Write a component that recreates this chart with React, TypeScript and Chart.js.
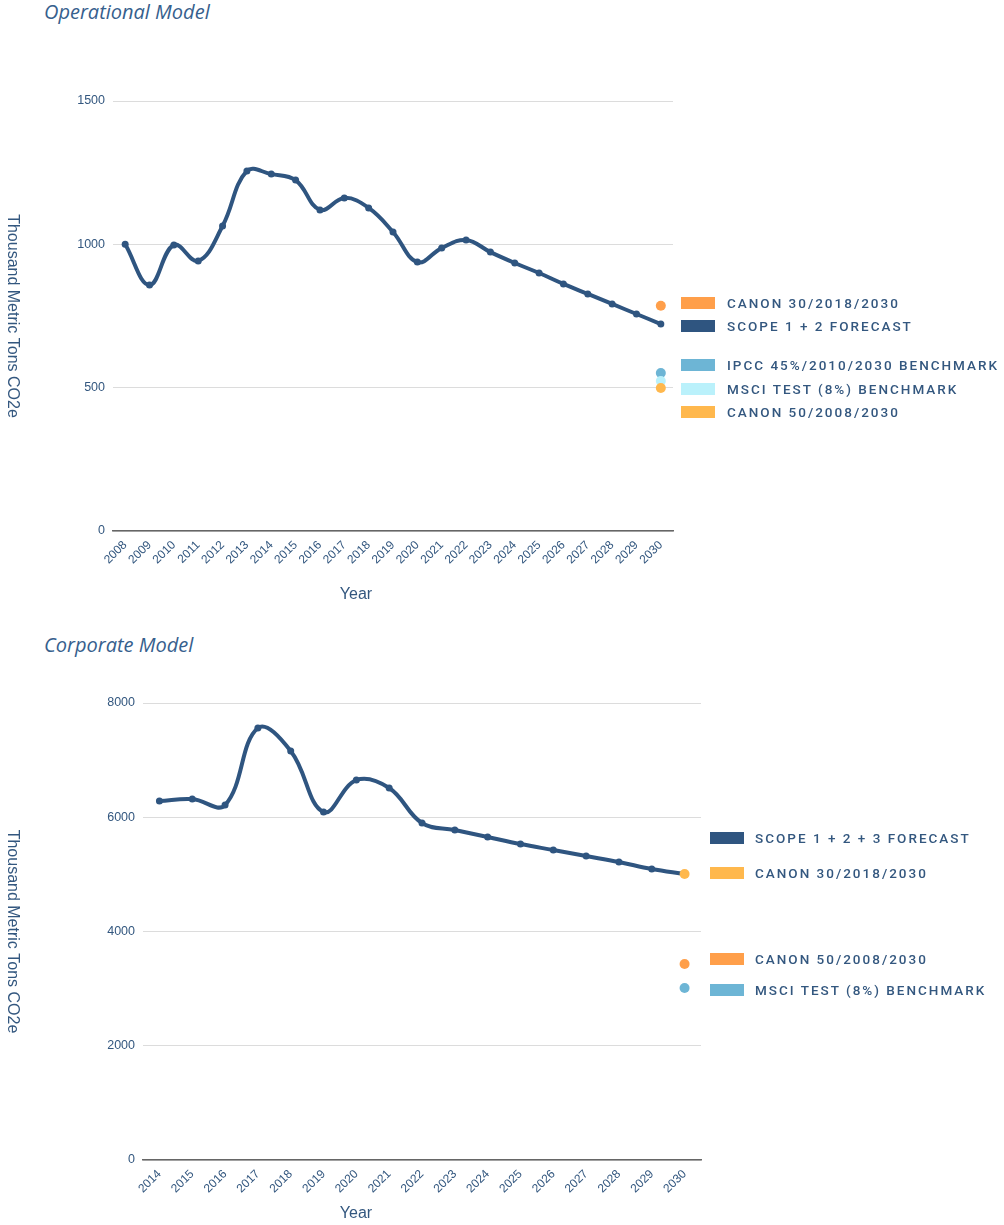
import React, { useEffect, useRef } from "react";
import { Chart, registerables } from "chart.js";

Chart.register(...registerables);

// ---------- DATA ----------
const opYears = ["2008","2009","2010","2011","2012","2013","2014","2015","2016","2017","2018","2019","2020","2021","2022","2023","2024","2025","2026","2027","2028","2029","2030"];
const opScope12 = [1000, 858, 998, 942, 1064, 1256, 1245, 1224, 1120, 1162, 1127, 1043, 938, 987, 1015, 973, 935, 900, 862, 827, 792, 757, 722];
const opCanon30 = 786;
const opIpcc45 = 551;
const opMsci8 = 523;
const opCanon50 = 499;
const opYTicks = [0, 500, 1000, 1500];

const corpYears = ["2014","2015","2016","2017","2018","2019","2020","2021","2022","2023","2024","2025","2026","2027","2028","2029","2030"];
const corpScope123 = [6284, 6319, 6214, 7562, 7159, 6091, 6651, 6512, 5899, 5776, 5654, 5531, 5426, 5321, 5216, 5094, 5006];
const corpCanon30 = 5006;
const corpCanon50 = 3431;
const corpMsci8 = 3011;
const corpYTicks = [0, 2000, 4000, 6000, 8000];

// ---------- STYLE ----------
const NAVY = "#2f5580";
const TEXT = "#33577f";
const ORANGE = "#ff9f4a";
const LIGHT_ORANGE = "#ffb84d";
const BLUE = "#6db5d5";
const CYAN = "#baf1fb";
const GRID = "#dcdcdc";
const AXIS = "#666666";
const TICK_FONT = "'Liberation Sans', Arial, sans-serif";

type Panel = {
  top: number;
  height: number;
  labels: string[];
  datasets: any[];
  yTicks: number[];
  chartLeft: number;
  chartRight: number;
  chartTop: number;
  chartBottom: number;
  yearY: number;
};

const titlesPlugin = {
  id: "axisTitles",
  afterDraw(chart: any, _args: any, opts: any) {
    const { ctx, chartArea } = chart;
    ctx.save();
    ctx.fillStyle = TEXT;
    ctx.font = `16px ${TICK_FONT}`;
    ctx.textAlign = "center";
    ctx.textBaseline = "middle";
    // y title, reading top-to-bottom
    ctx.save();
    ctx.translate(12, (chartArea.top + chartArea.bottom) / 2);
    ctx.rotate(Math.PI / 2);
    ctx.fillText("Thousand Metric Tons CO2e", 0, 0);
    ctx.restore();
    // x title
    ctx.fillText("Year", opts.yearX, opts.yearY);
    ctx.restore();
  },
};

function pointSet(label: string, labels: string[], value: number, color: string) {
  return {
    label,
    data: [{ x: labels[labels.length - 1], y: value }],
    showLine: false,
    pointRadius: 5,
    pointHoverRadius: 5,
    pointBorderWidth: 0,
    backgroundColor: color,
    borderColor: color,
    pointBackgroundColor: color,
  };
}

function lineSet(label: string, values: number[]) {
  return {
    label,
    data: values,
    borderColor: NAVY,
    backgroundColor: NAVY,
    pointBackgroundColor: NAVY,
    pointBorderColor: NAVY,
    borderWidth: 4,
    pointRadius: 3.5,
    pointBorderWidth: 0,
    tension: 0.4,
    fill: false,
  };
}

function ChartPanel({ p }: { p: Panel }) {
  const ref = useRef<HTMLCanvasElement | null>(null);
  useEffect(() => {
    if (!ref.current) return;
    const yMax = p.yTicks[p.yTicks.length - 1];
    const step = p.yTicks[1] - p.yTicks[0];
    const chart = new Chart(ref.current, {
      type: "line",
      data: { labels: p.labels, datasets: p.datasets },
      plugins: [titlesPlugin],
      options: {
        responsive: false,
        animation: false,
        layout: {
          padding: { left: 0, right: 1004 - p.chartRight, top: p.chartTop, bottom: 0 },
        },
        plugins: {
          legend: { display: false },
          tooltip: { enabled: false },
          axisTitles: { yearX: 356, yearY: p.yearY },
        } as any,
        scales: {
          x: {
            type: "category",
            offset: true,
            grid: { display: false, drawTicks: false },
            border: { display: true, color: AXIS, width: 1.5 },
            ticks: {
              color: TEXT,
              font: { family: TICK_FONT, size: 12 },
              maxRotation: 45,
              minRotation: 45,
              padding: 7,
              autoSkip: false,
            },
            afterFit: (s: any) => {
              s.height = p.height - p.chartBottom;
            },
          },
          y: {
            min: 0,
            max: yMax,
            grid: { color: GRID, drawTicks: false, lineWidth: 1 },
            border: { display: false },
            ticks: {
              stepSize: step,
              color: TEXT,
              font: { family: TICK_FONT, size: 12.5 },
              padding: 8,
              callback: (v: any) => String(v),
            },
            afterFit: (s: any) => {
              s.width = p.chartLeft;
            },
          },
        },
      } as any,
    });
    return () => chart.destroy();
  }, []);
  return (
    <canvas
      ref={ref}
      width={1004}
      height={p.height}
      style={{ position: "absolute", left: 0, top: p.top, width: 1004, height: p.height }}
    />
  );
}

const LEGEND_FONT = "Roboto, 'Noto Sans', sans-serif";

function Legend({ items, swatchLeft, textLeft }: { items: { label: string; color: string; y: number }[]; swatchLeft: number; textLeft: number }) {
  return (
    <>
      {items.map((it) => (
        <div key={it.label} style={{ position: "absolute", top: it.y - 8, left: swatchLeft, height: 16, display: "flex", alignItems: "center" }}>
          <div style={{ width: 34, height: 12, background: it.color }} />
          <div
            style={{
              marginLeft: textLeft - swatchLeft - 34,
              fontFamily: LEGEND_FONT,
              fontSize: 13.5,
              fontWeight: 500,
              letterSpacing: "2px",
              color: TEXT,
              whiteSpace: "nowrap",
              lineHeight: "16px",
            }}
          >
            {it.label}
          </div>
        </div>
      ))}
    </>
  );
}

const TITLE_STYLE: React.CSSProperties = {
  position: "absolute",
  left: 44,
  fontFamily: "'Open Sans', 'Noto Sans', sans-serif",
  fontStyle: "italic",
  fontSize: 20,
  color: "#36608d",
  whiteSpace: "nowrap",
  lineHeight: "24px",
};

export default function App() {
  const opPanel: Panel = {
    top: 0,
    height: 620,
    labels: opYears,
    datasets: [
      pointSet("CANON 50/2008/2030", opYears, opCanon50, LIGHT_ORANGE),
      pointSet("MSCI TEST (8%) BENCHMARK", opYears, opMsci8, CYAN),
      pointSet("IPCC 45%/2010/2030 BENCHMARK", opYears, opIpcc45, BLUE),
      pointSet("CANON 30/2018/2030", opYears, opCanon30, ORANGE),
      lineSet("SCOPE 1 + 2 FORECAST", opScope12),
    ],
    yTicks: opYTicks,
    chartLeft: 113,
    chartRight: 673,
    chartTop: 101,
    chartBottom: 531,
    yearY: 595,
  };
  const corpPanel: Panel = {
    top: 625,
    height: 600,
    labels: corpYears,
    datasets: [
      pointSet("CANON 30/2018/2030", corpYears, corpCanon30, LIGHT_ORANGE),
      pointSet("CANON 50/2008/2030", corpYears, corpCanon50, ORANGE),
      pointSet("MSCI TEST (8%) BENCHMARK", corpYears, corpMsci8, BLUE),
      lineSet("SCOPE 1 + 2 + 3 FORECAST", corpScope123),
    ],
    yTicks: corpYTicks,
    chartLeft: 143,
    chartRight: 701,
    chartTop: 78,
    chartBottom: 535,
    yearY: 589,
  };

  const opLegend = [
    { label: "CANON 30/2018/2030", color: ORANGE, y: 302.5 },
    { label: "SCOPE 1 + 2 FORECAST", color: NAVY, y: 326 },
    { label: "IPCC 45%/2010/2030 BENCHMARK", color: BLUE, y: 364.5 },
    { label: "MSCI TEST (8%) BENCHMARK", color: CYAN, y: 389 },
    { label: "CANON 50/2008/2030", color: LIGHT_ORANGE, y: 411.5 },
  ];
  const corpLegend = [
    { label: "SCOPE 1 + 2 + 3 FORECAST", color: NAVY, y: 838 },
    { label: "CANON 30/2018/2030", color: LIGHT_ORANGE, y: 873 },
    { label: "CANON 50/2008/2030", color: ORANGE, y: 959 },
    { label: "MSCI TEST (8%) BENCHMARK", color: BLUE, y: 989.5 },
  ];

  return (
    <div style={{ position: "absolute", left: 0, top: 0, width: 1004, height: 1225, background: "#fff", overflow: "hidden" }}>
      <div style={{ ...TITLE_STYLE, top: 0 }}>Operational Model</div>
      <div style={{ ...TITLE_STYLE, top: 633 }}>Corporate Model</div>
      <ChartPanel p={opPanel} />
      <ChartPanel p={corpPanel} />
      <Legend items={opLegend} swatchLeft={681} textLeft={727} />
      <Legend items={corpLegend} swatchLeft={710} textLeft={755} />
    </div>
  );
}
